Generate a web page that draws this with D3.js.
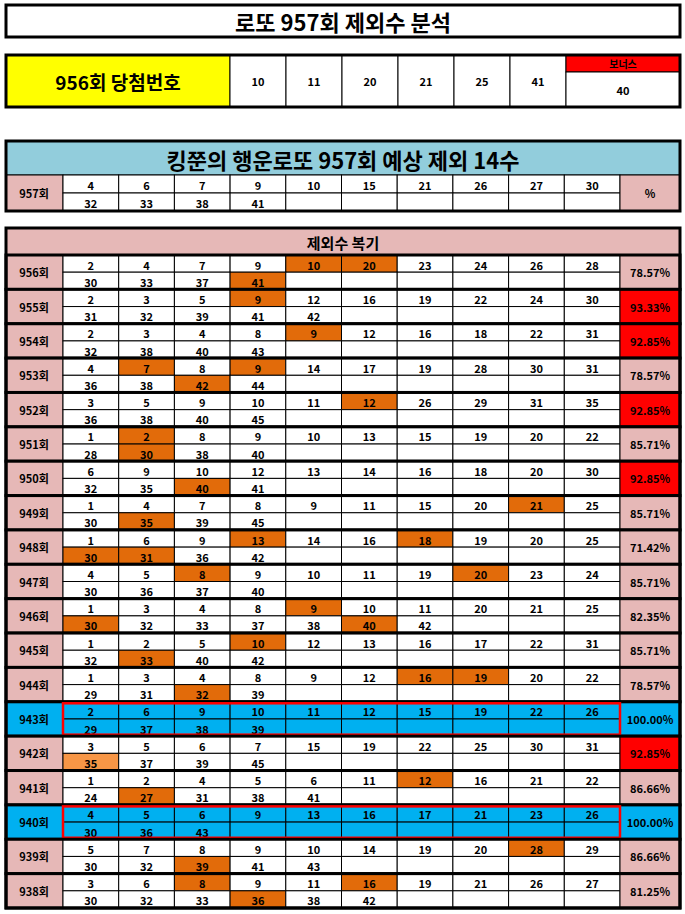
<!DOCTYPE html>
<html><head><meta charset="utf-8">
<script src="https://cdn.jsdelivr.net/npm/d3@7.9.0/dist/d3.min.js"></script>
<style>body{margin:0;background:#fff}text{font-family:"Noto Sans CJK KR",sans-serif;font-weight:bold}</style>
</head><body><svg id="chart" width="685" height="914"></svg>
<script>
// data
const title = "로또 957회 제외수 분석";
const winRound = "956회 당첨번호";
const winNums = [10, 11, 20, 21, 25, 41];
const bonus = 40;
const predTitle = "킹쭌의 행운로또 957회 예상 제외 14수";
const predNums = [4, 6, 7, 9, 10, 15, 21, 26, 27, 30, 32, 33, 38, 41];
const reviewTitle = "제외수 복기";
const rounds = [956, 955, 954, 953, 952, 951, 950, 949, 948, 947, 946, 945, 944, 943, 942, 941, 940, 939, 938];
const excluded = [
  [2,4,7,9,10,20,23,24,26,28,30,33,37,41],
  [2,3,5,9,12,16,19,22,24,30,31,32,39,41,42],
  [2,3,4,8,9,12,16,18,22,31,32,38,40,43],
  [4,7,8,9,14,17,19,28,30,31,36,38,42,44],
  [3,5,9,10,11,12,26,29,31,35,36,38,40,45],
  [1,2,8,9,10,13,15,19,20,22,28,30,38,40],
  [6,9,10,12,13,14,16,18,20,30,32,35,40,41],
  [1,4,7,8,9,11,15,20,21,25,30,35,39,45],
  [1,6,9,13,14,16,18,19,20,25,30,31,36,42],
  [4,5,8,9,10,11,19,20,23,24,30,36,37,40],
  [1,3,4,8,9,10,11,20,21,25,30,32,33,37,38,40,42],
  [1,2,5,10,12,13,16,17,22,31,32,33,40,42],
  [1,3,4,8,9,12,16,19,20,22,29,31,32,39],
  [2,6,9,10,11,12,15,19,22,26,29,37,38,39],
  [3,5,6,7,15,19,22,25,30,31,35,37,39,45],
  [1,2,4,5,6,11,12,16,21,22,24,27,31,38,41],
  [4,5,6,9,13,16,17,21,23,26,30,36,43],
  [5,7,8,9,10,14,19,20,28,29,30,32,39,41,43],
  [3,6,8,9,11,16,19,21,26,27,30,32,33,36,38,42]
];
const hits = [
  [10,20,41],[9],[9],[7,9,42],[12],[2,30],[40],[21,35],[13,18,30,31],[8,20],
  [9,40,30],[10,33],[16,19,32],[],[35],[12,27],[],[28,39],[8,16,36]
];
const pcts = ["78.57%","93.33%","92.85%","78.57%","92.85%","85.71%","92.85%","85.71%","71.42%","85.71%","82.35%","85.71%","78.57%","100.00%","92.85%","86.66%","100.00%","86.66%","81.25%"];

const pink = "#e6b8b7", orange = "#e26b0a", lightOrange = "#f79646", blue = "#00b0f0", red = "#ff0000";
const svg = d3.select("#chart");
const L = 6, R = 680, labelR = 63, pctL = 620;

function txt(g, x, y, s, size, fill) {
  g.append("text").attr("x", x).attr("y", y).attr("text-anchor", "middle")
    .attr("dominant-baseline", "central").attr("font-size", size).attr("fill", fill || "#000").text(s);
}
function rect(x, y, w, h, fill, sw, stroke) {
  svg.append("rect").attr("x", x).attr("y", y).attr("width", w).attr("height", h)
    .attr("fill", fill).attr("stroke", stroke || "#000").attr("stroke-width", sw);
}

// title
rect(L, 5, R - L, 32, "#fff", 3);
txt(svg, (L + R) / 2, 21, title, 22);

// winning numbers
const wx = d3.scaleBand().domain(d3.range(6)).range([230, 566]);
rect(L, 55, 224, 52, "#ffff00", 1);
txt(svg, 118, 81, winRound, 19);
winNums.forEach((n, i) => { rect(wx(i), 55, wx.bandwidth(), 52, "#fff", 1); txt(svg, wx(i) + wx.bandwidth() / 2, 81, n, 11); });
rect(566, 55, 114, 17, red, 1);
txt(svg, 623, 63, "보너스", 10);
rect(566, 72, 114, 35, "#fff", 1);
txt(svg, 623, 90, bonus, 11);
svg.append("rect").attr("x", L).attr("y", 55).attr("width", R - L).attr("height", 52).attr("fill", "none").attr("stroke", "#000").attr("stroke-width", 3);

const x = d3.scaleBand().domain(d3.range(10)).range([labelR, pctL]);

function numRows(y0, h, nums, hl, bg) {
  const lh = h / 2;
  for (let k = 0; k < 20; k++) {
    const c = k % 10, line = Math.floor(k / 10), n = nums[k];
    let fill = bg || "#fff";
    if (n !== undefined && hl.includes(n)) fill = (hl === hits[14]) ? lightOrange : orange;
    rect(x(c), y0 + line * lh, x.bandwidth(), lh, fill, 1);
    if (n !== undefined) txt(svg, x(c) + x.bandwidth() / 2, y0 + line * lh + lh / 2 + 1, n, 11);
  }
}

// prediction
rect(L, 141, R - L, 34, "#92cddc", 1);
txt(svg, (L + R) / 2, 159, predTitle, 22);
rect(L, 175, labelR - L, 36, pink, 1);
txt(svg, 34, 193, "957회", 11);
numRows(175, 36, predNums, [], null);
rect(pctL, 175, R - pctL, 36, pink, 1);
txt(svg, 650, 193, "%", 11);
svg.append("rect").attr("x", L).attr("y", 141).attr("width", R - L).attr("height", 70).attr("fill", "none").attr("stroke", "#000").attr("stroke-width", 3);

// review
rect(L, 228, R - L, 27, pink, 1);
txt(svg, (L + R) / 2, 242, reviewTitle, 15);
const y = d3.scaleBand().domain(rounds).range([255, 908]);
rounds.forEach((r, i) => {
  const y0 = y(r), h = y.bandwidth();
  const full = pcts[i] === "100.00%";
  const redPct = pcts[i] === "92.85%" || pcts[i] === "93.33%";
  rect(L, y0, labelR - L, h, full ? blue : pink, 1);
  txt(svg, 34, y0 + h / 2, r + "회", 11);
  numRows(y0, h, excluded[i], hits[i], full ? blue : null);
  rect(pctL, y0, R - pctL, h, full ? blue : (redPct ? red : pink), 1);
  txt(svg, 650, y0 + h / 2, pcts[i], 11);
  svg.append("rect").attr("x", L).attr("y", y0).attr("width", R - L).attr("height", h)
    .attr("fill", "none").attr("stroke", "#000").attr("stroke-width", 3);
  if (full) svg.append("rect").attr("x", labelR).attr("y", y0 + 1.5).attr("width", pctL - labelR).attr("height", h - 3)
    .attr("fill", "none").attr("stroke", red).attr("stroke-width", 2.5);
});
svg.append("rect").attr("x", L).attr("y", 228).attr("width", R - L).attr("height", 680).attr("fill", "none").attr("stroke", "#000").attr("stroke-width", 3);
</script></body></html>
